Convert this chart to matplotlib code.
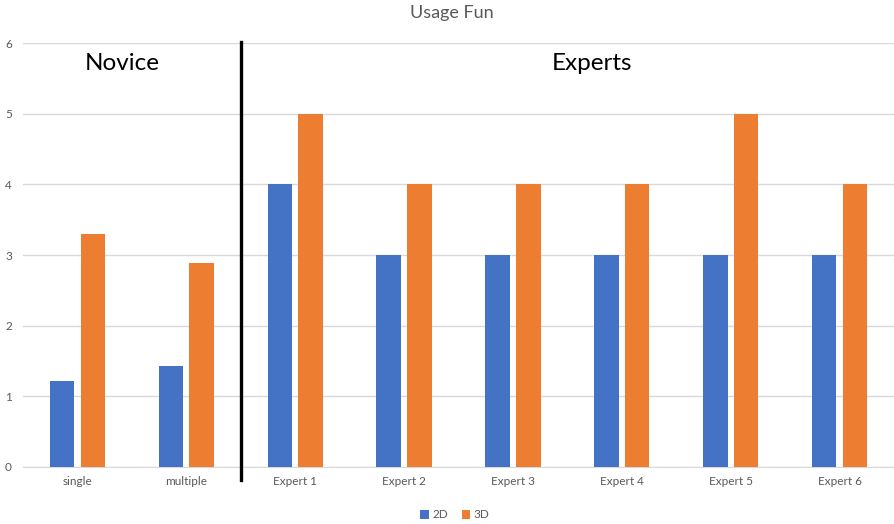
import matplotlib
matplotlib.use("Agg")
import matplotlib.pyplot as plt
import numpy as np

categories = ["single", "multiple", "Expert 1", "Expert 2", "Expert 3", "Expert 4", "Expert 5", "Expert 6"]
series_2d = [1.21, 1.42, 4, 3, 3, 3, 3, 3]
series_3d = [3.30, 2.88, 5, 4, 4, 4, 5, 4]
yticks = [0, 1, 2, 3, 4, 5, 6]

plt.rcParams['font.family'] = ['Lato', 'DejaVu Sans']

fig = plt.figure(figsize=(8.95, 5.24), dpi=100)
L, R, T, B = 23, 894, 43.3, 466.7
ax = fig.add_axes([L/895, (524-B)/524, (R-L)/895, (B-T)/524])

x = np.arange(len(categories))
w = 0.225
off = 0.141
ax.bar(x - off, series_2d, width=w, color="#4472C4", label="2D", zorder=3)
ax.bar(x + off, series_3d, width=w, color="#ED7D31", label="3D", zorder=3)

ax.set_xlim(-0.5, len(categories) - 0.5)
ax.set_ylim(0, 6)
ax.set_yticks(yticks)
ax.set_xticks(x)
ax.set_xticklabels(categories)
ax.tick_params(axis='both', length=0, labelsize=8.5, colors="#595959")
ax.tick_params(axis='y', pad=8)
ax.tick_params(axis='x', pad=7)
ax.grid(axis='y', color="#D9D9D9", linewidth=1, zorder=0)
for s in ["top", "right", "left"]:
    ax.spines[s].set_visible(False)
ax.spines["bottom"].set_color("#D9D9D9")

ax.plot([1.5, 1.5], [-0.19, 6.02], color="black", linewidth=2.4, clip_on=False, zorder=4)

ax.text(0.41, 5.72, "Novice", fontsize=17.5, ha="center", va="center", color="black")
ax.text(4.73, 5.72, "Experts", fontsize=17.5, ha="center", va="center", color="black")

fig.text(452/895, 1 - 13/524, "Usage Fun", ha="center", va="center", fontsize=13, color="#595959")

leg = fig.legend(loc="center", bbox_to_anchor=(455/895, 1 - 515/524), ncol=2, frameon=False,
                 fontsize=8.5, handlelength=0.7, handleheight=0.7, handletextpad=0.3, columnspacing=1.2)
for t in leg.get_texts():
    t.set_color("#595959")

fig.savefig("out.png", dpi=100)
